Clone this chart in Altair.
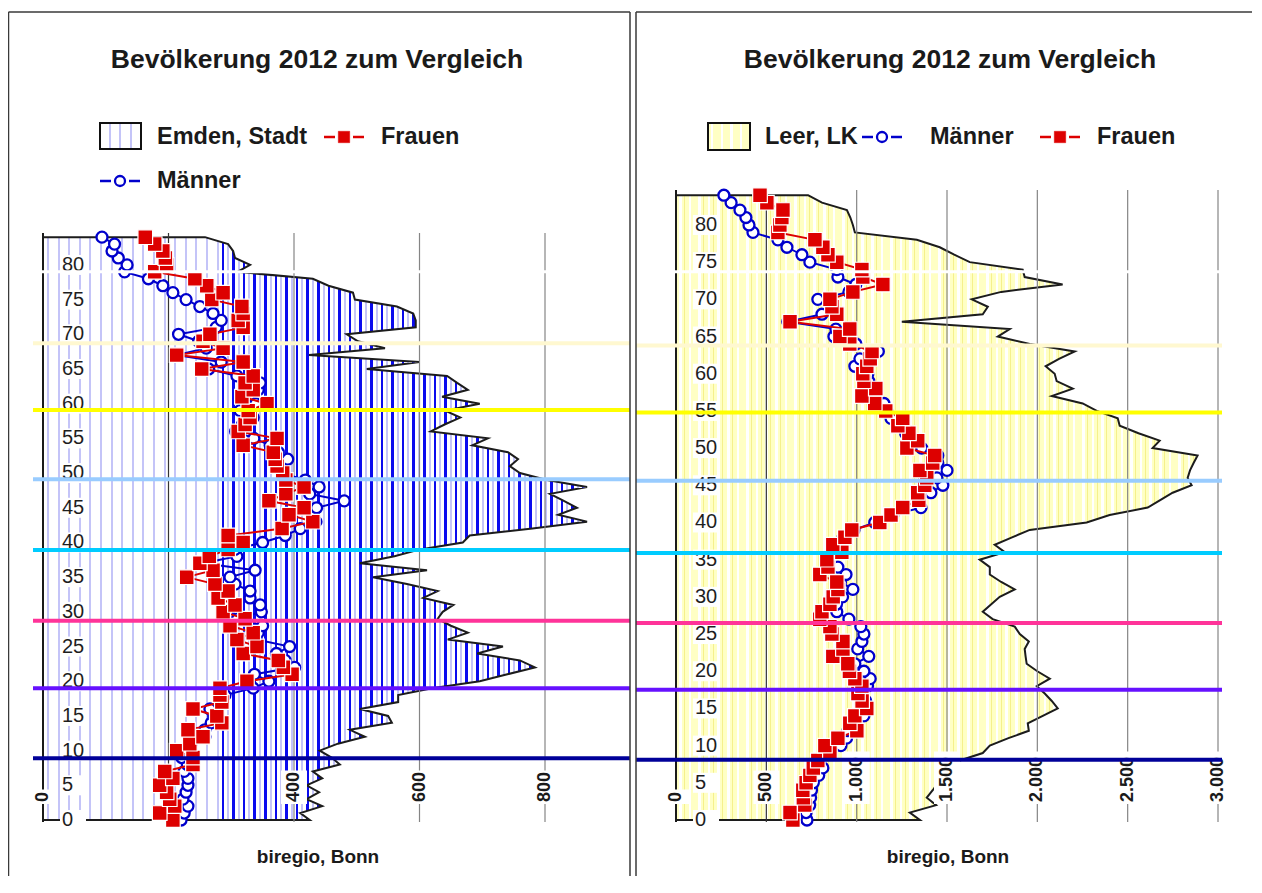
import altair as alt
import pandas as pd

# ---------------- data ----------------
AGES = list(range(85))

EMDEN_TOTAL = [425, 410, 445, 420, 440, 420, 445, 430, 473, 460,
               441, 470, 513, 489, 556, 550, 505, 566, 566, 620,
               696, 740, 784, 760, 692, 733, 645, 677, 650, 629,
               637, 654, 606, 629, 580, 526, 612, 505, 560, 601,
               669, 680, 780, 867, 821, 851, 830, 808, 867, 803,
               760, 744, 757, 741, 684, 709, 618, 640, 665, 641,
               696, 636, 677, 660, 644, 516, 600, 424, 545, 502,
               484, 594, 594, 590, 564, 497, 494, 455, 430, 310,
               330, 306, 303, 295, 258]
EMDEN_MEN = [220, 225, 231, 223, 228, 231, 231, 225, 230, 221,
             226, 236, 258, 258, 268, 272, 266, 283, 290, 335,
             360, 337, 401, 386, 372, 393, 340, 343, 350, 310,
             348, 346, 330, 330, 306, 298, 338, 255, 309, 306,
             350, 386, 410, 435, 428, 436, 480, 425, 440, 418,
             380, 372, 390, 375, 362, 336, 307, 318, 335, 314,
             339, 320, 343, 346, 309, 264, 284, 212, 260, 248,
             216, 276, 284, 271, 250, 228, 207, 191, 168, 130,
             134, 120, 110, 114, 94]
EMDEN_WOMEN = [207, 186, 210, 202, 197, 186, 207, 194, 239, 239,
               213, 234, 255, 231, 285, 277, 239, 285, 282, 282,
               325, 397, 383, 375, 319, 341, 309, 335, 298, 322,
               287, 306, 279, 295, 274, 229, 271, 250, 265, 295,
               319, 295, 381, 430, 392, 416, 360, 387, 416, 387,
               382, 373, 370, 367, 319, 373, 311, 322, 330, 327,
               357, 317, 335, 322, 335, 253, 319, 213, 287, 255,
               266, 319, 311, 319, 317, 269, 287, 261, 242, 178,
               197, 195, 191, 178, 163]

LEER_TOTAL = [1350, 1294, 1440, 1388, 1421, 1450, 1480, 1520, 1571, 1698,
              1737, 1840, 1953, 1947, 2030, 2113, 2080, 2041, 1997, 2069,
              2000, 1941, 1935, 1930, 1953, 1903, 1875, 1753, 1698, 1745,
              1792, 1875, 1800, 1737, 1737, 1681, 1820, 1764, 1860, 1958,
              2273, 2400, 2611, 2680, 2749, 2854, 2832, 2845, 2865, 2887,
              2638, 2677, 2560, 2456, 2445, 2329, 2251, 2080, 2196, 2107,
              2096, 2046, 2120, 2207, 1958, 1781, 1847, 1250, 1698, 1726,
              1637, 1800, 2140, 1930, 1919, 1626, 1540, 1460, 1333, 990,
              979, 965, 946, 808, 730]
LEER_MEN = [725, 720, 740, 745, 750, 760, 790, 813, 790, 846,
            913, 944, 952, 985, 1040, 1057, 1050, 1034, 1060, 1075,
            1040, 990, 1067, 1006, 1029, 1040, 1023, 957, 890, 888,
            922, 979, 910, 941, 896, 846, 902, 896, 925, 985,
            1100, 1200, 1356, 1336, 1411, 1477, 1444, 1500, 1449, 1449,
            1360, 1339, 1271, 1228, 1190, 1168, 1151, 1051, 1090, 1067,
            1062, 990, 1018, 1120, 996, 874, 885, 619, 808, 863,
            785, 957, 995, 896, 890, 741, 697, 614, 564, 426,
            404, 387, 354, 305, 265]
LEER_WOMEN = [647, 631, 713, 705, 702, 720, 741, 760, 785, 852,
              824, 896, 1001, 962, 990, 1056, 1030, 1007, 1029, 990,
              960, 951, 868, 924, 924, 863, 852, 796, 808, 852,
              870, 896, 890, 796, 841, 835, 918, 868, 935, 973,
              1128, 1190, 1255, 1344, 1338, 1377, 1388, 1350, 1421, 1432,
              1278, 1338, 1289, 1228, 1255, 1161, 1100, 1029, 1106, 1040,
              1034, 1056, 1075, 1085, 962, 907, 962, 631, 890, 863,
              852, 979, 1145, 1034, 1029, 890, 841, 813, 769, 564,
              575, 586, 592, 503, 465]

AGE_TICKS = list(range(0, 81, 5))
EMDEN_GRID = [200, 400, 600, 800]
EMDEN_TICKS = [0, 400, 600, 800]
EMDEN_TICK_LABELS = ["0", "400", "600", "800"]
LEER_GRID = [500, 1000, 1500, 2000, 2500, 3000]
LEER_TICKS = [0, 500, 1000, 1500, 2000, 2500, 3000]
LEER_TICK_LABELS = ["0", "500", "1.000", "1.500", "2.000", "2.500", "3.000"]

BAND_NAMES = ["b1", "b2", "b3", "b4", "b5", "b6", "b7"]
EMDEN_BAND_AGES = [68.7, 59.1, 49.1, 38.9, 28.7, 19.0, 8.9]
LEER_BAND_AGES = [63.8, 54.8, 45.6, 35.9, 26.5, 17.5, 8.1]
EMDEN_GLITCH_AGE = [79.0]
LEER_GLITCH_AGE = [73.7]

TITLE = "Bevölkerung 2012 zum Vergleich"
SOURCE = "biregio, Bonn"

# ---------------- styles / layout ----------------
FONT = "Liberation Sans"
BAND_COLORS = ["#FFF8D0", "#FFFF00", "#99CCFF", "#00CCFF", "#FF3399", "#6611FF", "#000099"]
BLUE = "#0000CC"
RED = "#DD0000"


def P(v):  # page pixel -> chart pixel (8px body margin)
    return v - 8


LEFT = dict(x0=43, x1=43 + 900 * 0.6275, xdom=[0, 900], top=233, ytop=84.6,
            ylab=62, band=(33, 630), glitch=(40, 630))
RIGHT = dict(x0=676, x1=1218, xdom=[0, 3000], top=190, ytop=84.7,
             ylab=695, band=(636, 1222), glitch=(636, 1222))

one = pd.DataFrame({"k": [0]})


def xscale(p):
    return alt.Scale(domain=p["xdom"], range=[P(p["x0"]), P(p["x1"])], nice=False, zero=False)


def yscale(p):
    return alt.Scale(domain=[0, p["ytop"]], range=[P(820), P(p["top"])], nice=False, zero=False)


def stripe_gradient(width_px, bg, stripes):
    stops = [{"offset": 0, "color": bg}]
    for a, b, c in stripes:
        if b >= width_px:
            break
        oa, ob = a / width_px, b / width_px
        stops += [{"offset": oa, "color": bg}, {"offset": oa, "color": c},
                  {"offset": ob, "color": c}, {"offset": ob, "color": bg}]
    stops.append({"offset": 1, "color": bg})
    return {"gradient": "linear", "x1": 0, "x2": 1, "y1": 0, "y2": 0, "stops": stops}


def emden_stripes(width_px):
    s = []
    per = 10.6
    n = 0
    while n * per < width_px:
        base = n * per
        s.append((base + 4.0, base + 6.0, "#C4C4F8"))
        if base + 9.0 > 170:
            s.append((base + 9.0, base + 11.5, "#0A0AEE"))
        n += 1
    s.sort()
    return s


def leer_stripes(width_px):
    s = []
    per = 9.6
    n = 0
    while n * per < width_px:
        base = n * per
        s.append((base + 3.0, base + 5.5, "#FFFFFF"))
        s.append((base + 8.0, base + 8.8, "#F5F08C"))
        n += 1
    return s


def panel(p, total, men, women, grid, ticks, tick_labels, band_ages, glitch_age, area_fill, grid_dark):
    xs, ys = xscale(p), yscale(p)
    df = pd.DataFrame({"age": AGES, "total": total, "men": men, "women": women})
    df["zero"] = 0
    layers = []
    # population area
    layers.append(alt.Chart(df).mark_area(orient="horizontal", fill=area_fill, stroke="#1c1c1c",
                                          strokeWidth=2, strokeJoin="miter").encode(
        x=alt.X("total:Q", scale=xs, axis=None), x2="zero:Q",
        y=alt.Y("age:Q", scale=ys, axis=None)))
    # grid
    gdf = pd.DataFrame({"g": grid})
    layers.append(alt.Chart(gdf).mark_rule(strokeWidth=1.2).encode(
        x=alt.X("g:Q", scale=xs, axis=None),
        y=alt.value(P(p["top"])), y2=alt.value(P(822)),
        color=alt.condition(f"datum.g == {grid_dark}", alt.value("#333333"), alt.value("#858585"))))
    # y-axis line
    layers.append(alt.Chart(one).mark_rule(color="#1a1a1a", strokeWidth=2).encode(
        x=alt.value(P(p["x0"])), y=alt.value(P(p["top"])), y2=alt.value(P(822))))
    # men
    layers.append(alt.Chart(df).mark_line(color=BLUE, strokeWidth=2).encode(
        x=alt.X("men:Q", scale=xs, axis=None), y=alt.Y("age:Q", scale=ys, axis=None), order="age:Q"))
    layers.append(alt.Chart(df).mark_point(shape="circle", filled=True, fill="white", stroke=BLUE,
                                           strokeWidth=2.3, size=120, opacity=1).encode(
        x=alt.X("men:Q", scale=xs, axis=None), y=alt.Y("age:Q", scale=ys, axis=None)))
    # women
    layers.append(alt.Chart(df).mark_line(color=RED, strokeWidth=2).encode(
        x=alt.X("women:Q", scale=xs, axis=None), y=alt.Y("age:Q", scale=ys, axis=None), order="age:Q"))
    layers.append(alt.Chart(df).mark_point(shape="square", filled=True, fill=RED, stroke="white",
                                           strokeWidth=1.2, size=215, opacity=1).encode(
        x=alt.X("women:Q", scale=xs, axis=None), y=alt.Y("age:Q", scale=ys, axis=None)))
    # y labels with white boxes
    ydf = pd.DataFrame({"age": AGE_TICKS, "label": [str(a) for a in AGE_TICKS]})
    layers.append(alt.Chart(ydf).mark_rect(fill="white", yOffset=-10, y2Offset=10).encode(
        x=alt.value(P(p["ylab"] - 2)), x2=alt.value(P(p["ylab"] + 24)),
        y=alt.Y("age:Q", scale=ys, axis=None), y2="age:Q"))
    layers.append(alt.Chart(ydf).mark_text(align="left", baseline="middle", fontSize=20, font=FONT,
                                           color="#1e1e1e").encode(
        x=alt.value(P(p["ylab"])), y=alt.Y("age:Q", scale=ys, axis=None), text="label:N"))
    # x labels with white boxes (rotated)
    xdf = pd.DataFrame({"v": ticks, "label": tick_labels})
    layers.append(alt.Chart(xdf).transform_calculate(
        btop=f"{P(803)} - (length(datum.label) * 9.5 + 4)").mark_rect(
        fill="white", xOffset=-13, x2Offset=13).encode(
        x=alt.X("v:Q", scale=xs, axis=None), x2="v:Q",
        y=alt.Y("btop:Q", scale=None, axis=None), y2=alt.value(P(804))))
    layers.append(alt.Chart(xdf).mark_text(angle=270, align="left", baseline="middle", fontSize=18,
                                           fontWeight="bold", font=FONT, color="#1a1a1a").encode(
        x=alt.X("v:Q", scale=xs, axis=None), y=alt.value(P(802)), text="label:N"))
    # coloured horizontal bands
    bdf = pd.DataFrame({"band": BAND_NAMES, "age": band_ages})
    layers.append(alt.Chart(bdf).mark_rule(strokeWidth=4).encode(
        y=alt.Y("age:Q", scale=ys, axis=None),
        x=alt.value(P(p["band"][0])), x2=alt.value(P(p["band"][1])),
        color=alt.Color("band:N", scale=alt.Scale(domain=BAND_NAMES, range=BAND_COLORS), legend=None)))
    gl = pd.DataFrame({"age": glitch_age})
    layers.append(alt.Chart(gl).mark_rule(strokeWidth=3, color="white").encode(
        y=alt.Y("age:Q", scale=ys, axis=None),
        x=alt.value(P(p["glitch"][0])), x2=alt.value(P(p["glitch"][1]))))
    return layers


kL = (LEFT["x1"] - LEFT["x0"]) / 900
kR = (RIGHT["x1"] - RIGHT["x0"]) / 3000
wL = max(EMDEN_TOTAL) * kL
wR = max(LEER_TOTAL) * kR
fillL = stripe_gradient(wL, "#FFFFFF", emden_stripes(wL))
fillR = stripe_gradient(wR, "#FFFFC4", leer_stripes(wR))

layers = []
layers += panel(LEFT, EMDEN_TOTAL, EMDEN_MEN, EMDEN_WOMEN, EMDEN_GRID, EMDEN_TICKS, EMDEN_TICK_LABELS,
                EMDEN_BAND_AGES, EMDEN_GLITCH_AGE, fillL, 200)
layers += panel(RIGHT, LEER_TOTAL, LEER_MEN, LEER_WOMEN, LEER_GRID, LEER_TICKS, LEER_TICK_LABELS,
                LEER_BAND_AGES, LEER_GLITCH_AGE, fillR, 500)


def text(x, y, s, size, bold=True, align="left"):
    return alt.Chart(one).mark_text(align=align, baseline="middle", fontSize=size,
                                    fontWeight="bold" if bold else "normal", font=FONT,
                                    color="#1a1a1a").encode(
        x=alt.value(P(x)), y=alt.value(P(y)), text=alt.value(s))


def hline(x0, x1, y, color, w):
    return alt.Chart(one).mark_rule(color=color, strokeWidth=w).encode(
        x=alt.value(P(x0)), x2=alt.value(P(x1)), y=alt.value(P(y)))


def vline(x, y0, y1, color, w):
    return alt.Chart(one).mark_rule(color=color, strokeWidth=w).encode(
        x=alt.value(P(x)), y=alt.value(P(y0)), y2=alt.value(P(y1)))


def box(x0, x1, y0, y1, fill):
    return alt.Chart(one).mark_rect(fill=fill, stroke="#111111", strokeWidth=2).encode(
        x=alt.value(P(x0)), x2=alt.value(P(x1)), y=alt.value(P(y0)), y2=alt.value(P(y1)))


def marker(x, y, kind):
    if kind == "circle":
        m = alt.Chart(one).mark_point(shape="circle", filled=True, fill="white", stroke=BLUE,
                                      strokeWidth=2.3, size=100, opacity=1)
    else:
        m = alt.Chart(one).mark_point(shape="square", filled=True, fill=RED, stroke=RED,
                                      strokeWidth=0.5, size=130, opacity=1)
    return m.encode(x=alt.value(P(x)), y=alt.value(P(y)))


def legend_line(xc, y, color, kind):
    return [hline(xc - 20, xc - 9, y, color, 2.5), hline(xc + 9, xc + 20, y, color, 2.5),
            marker(xc, y, kind)]


legL = stripe_gradient(41, "#FFFFFF", [(9, 11, "#C4C4F8"), (19.5, 21.5, "#C4C4F8"), (30, 32, "#C4C4F8")])
legR = stripe_gradient(42, "#FFFFC4", [(3, 5.5, "#FFFFFF"), (12.6, 15.1, "#FFFFFF"), (22.2, 24.7, "#FFFFFF"),
                                       (31.8, 34.3, "#FFFFFF")])

deco = [
    # titles
    text(317, 60, TITLE, 26.5, align="center"),
    text(950, 60, TITLE, 26.5, align="center"),
    # left legend
    box(100, 141, 123, 149, legL), text(157, 137, "Emden, Stadt", 23.5),
    *legend_line(344, 137, RED, "square"), text(381, 137, "Frauen", 23.5),
    *legend_line(120, 181, BLUE, "circle"), text(157, 181, "Männer", 23.5),
    # right legend
    box(708, 750, 123, 150, legR), text(765, 137, "Leer, LK", 23.5),
    *legend_line(882, 137, BLUE, "circle"), text(930, 137, "Männer", 23.5),
    *legend_line(1060, 137, RED, "square"), text(1097, 137, "Frauen", 23.5),
    # source notes
    text(318, 857, SOURCE, 19, align="center"),
    text(948, 857, SOURCE, 19, align="center"),
    # panel borders
    vline(8.5, 12, 876, "#3a3a3a", 1.5),
    vline(630, 12, 876, "#3a3a3a", 1.5),
    vline(636, 12, 876, "#3a3a3a", 1.5),
    hline(8.5, 630, 12, "#3a3a3a", 1.5),
    hline(636, 1252, 12, "#3a3a3a", 1.5),
]

chart = alt.layer(*(layers + deco)).resolve_scale(
    x="independent", y="independent"
).properties(
    width=1244, height=868, padding=0,
    autosize=alt.AutoSizeParams(type="none"),
    background="white",
).configure_view(stroke=None)

chart.save("out.html", embed_options={"renderer": "svg", "actions": False})
